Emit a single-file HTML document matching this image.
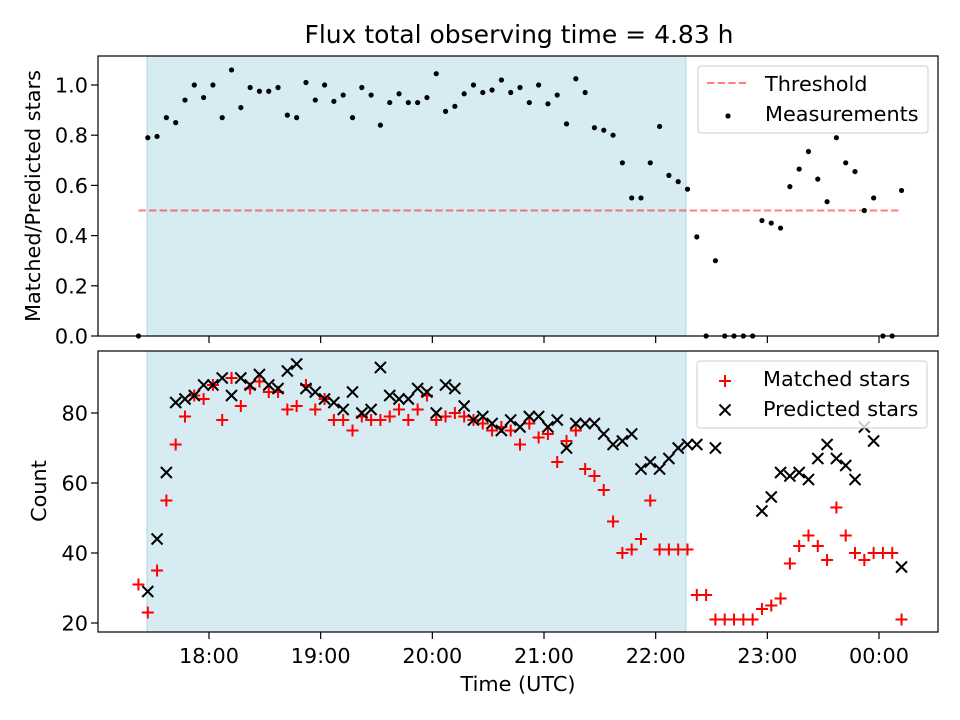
<!DOCTYPE html>
<html><head><meta charset="utf-8"><style>
body{margin:0;background:#fff}
svg{display:block;font-family:"DejaVu Sans","Liberation Sans",sans-serif}
</style></head><body>
<svg id="chart" width="960" height="720" viewBox="0 0 960 720"></svg>
<script>
// Data (minutes after 17:00 = t0 + 5*i)
const t0 = 22.1, step = 5;
const ratio = [0,.79,.795,.87,.85,.94,1.0,.95,1.0,.87,1.06,.91,.99,.975,.975,.99,.88,.87,1.01,.94,1.0,.935,.96,.87,.99,.96,.84,.93,.965,.93,.93,.95,1.045,.895,.915,.965,1.0,.97,.98,1.02,.97,.99,.93,1.0,.925,.96,.845,1.025,.97,.83,.82,.80,.69,.55,.55,.69,.835,.64,.615,.585,.395,0,.30,0,0,0,0,.46,.45,.43,.595,.665,.735,.625,.535,.79,.69,.655,.50,.55,0,0,.58];
const matched = [31,23,35,55,71,79,85,84,88,78,90,82,87,89,86,86,81,82,88,81,84,78,78,75,79,78,78,79,81,78,81,85,78,79,80,79,78,77,75,76,75,71,77,73,74,66,72,75,64,62,58,49,40,41,44,55,41,41,41,41,28,28,21,21,21,21,21,24,25,27,37,42,45,42,38,53,45,40,38,40,40,40,21];
const predicted = [null,29,44,63,83,84,85,88,88,90,85,90,88,91,88,87,92,94,87,86,84,83,81,86,80,81,93,85,84,84,87,86,80,88,87,82,78,79,77,75,78,76,79,79,76,78,70,77,77,77,74,71,72,74,64,66,64,67,70,71,71,null,70,null,null,null,null,52,56,63,62,63,61,67,71,67,65,61,76,72,null,null,36];
const threshold = 0.5;
const shadeStart = 26.7, shadeEnd = 316.3; // minutes after 17:00
const xTickLabels = ["18:00","19:00","20:00","21:00","22:00","23:00","00:00"];
const xTickMins = [60,120,180,240,300,360,420];
const yTopTicks = [0,0.2,0.4,0.6,0.8,1.0];
const yBotTicks = [20,40,60,80];

const NS="http://www.w3.org/2000/svg", svg=document.getElementById('chart');
function mk(tag,attrs,parent){const e=document.createElementNS(NS,tag);for(const k in attrs)e.setAttribute(k,attrs[k]);(parent||svg).appendChild(e);return e;}
const L=98,R=938,FS='20.8';
const X = m => 209 + (m-60)*(111.67/60);
const Yt = v => 336 - v*251;
const Yb = v => 623 - (v-20)*3.5;
const T1=56,B1=336,T2=351,B2=632;
const tm = i => t0 + step*i;

let e=mk('text',{x:519,y:43,'text-anchor':'middle','font-size':'25'});e.textContent='Flux total observing time = 4.83 h';



function panel(top,bot,name){
  const g=mk('g',{});
  
  
  const s=mk('rect',{x:X(shadeStart),y:top,width:X(shadeEnd)-X(shadeStart),height:bot-top,fill:'#add8e6','fill-opacity':0.5,stroke:'#add8e6','stroke-width':1},g);
  
  
  return g;
}
const gt=panel(T1,B1,'top-panel');
const gb=panel(T2,B2,'bottom-panel');

let th=mk('line',{x1:X(tm(0)),x2:X(tm(82)),y1:Yt(threshold),y2:Yt(threshold),stroke:'#ff0000','stroke-opacity':0.5,'stroke-width':2,'stroke-dasharray':'7.4,3.2'},gt);



ratio.forEach((v,i)=>{
  const c=mk('circle',{cx:X(tm(i)),cy:Yt(v),r:2.6,fill:'#000'},gt);
  
  
});
matched.forEach((v,i)=>{
  const x=X(tm(i)),y=Yb(v);
  const p=mk('path',{d:`M${x-6},${y}H${x+6}M${x},${y-6}V${y+6}`,stroke:'#ff0000','stroke-width':2},gb);
  
  
});
predicted.forEach((v,i)=>{
  if(v==null)return;
  const x=X(tm(i)),y=Yb(v);
  const p=mk('path',{d:`M${x-5.5},${y-5.5}L${x+5.5},${y+5.5}M${x-5.5},${y+5.5}L${x+5.5},${y-5.5}`,stroke:'#000','stroke-width':2},gb);
  
  
});

[[T1,B1,'top-axes-frame'],[T2,B2,'bottom-axes-frame']].forEach(([t,b,n])=>{
  const r=mk('rect',{x:L,y:t,width:R-L,height:b-t,fill:'none',stroke:'#000','stroke-width':1.2});
  
  
});

xTickMins.forEach((m,i)=>{
  const x=X(m);
  mk('line',{x1:x,x2:x,y1:B1,y2:B1+7,stroke:'#000','stroke-width':1.2});
  mk('line',{x1:x,x2:x,y1:B2,y2:B2+7,stroke:'#000','stroke-width':1.2});
  const t=mk('text',{x:x,y:663,'text-anchor':'middle','font-size':FS});t.textContent=xTickLabels[i];
  
  
});
yTopTicks.forEach(v=>{
  const y=Yt(v);
  mk('line',{x1:L-7,x2:L,y1:y,y2:y,stroke:'#000','stroke-width':1.2});
  const t=mk('text',{x:L-10,y:y+7.5,'text-anchor':'end','font-size':FS});t.textContent=v.toFixed(1);
  
  
});
yBotTicks.forEach(v=>{
  const y=Yb(v);
  mk('line',{x1:L-7,x2:L,y1:y,y2:y,stroke:'#000','stroke-width':1.2});
  const t=mk('text',{x:L-10,y:y+7.5,'text-anchor':'end','font-size':FS});t.textContent=String(v);
  
  
});
e=mk('text',{x:518,y:691,'text-anchor':'middle','font-size':FS});e.textContent='Time (UTC)';


e=mk('text',{x:0,y:0,'text-anchor':'middle','font-size':FS,transform:`translate(40,196) rotate(-90)`});e.textContent='Matched/Predicted stars';


e=mk('text',{x:0,y:0,'text-anchor':'middle','font-size':FS,transform:`translate(46,491) rotate(-90)`});e.textContent='Count';



function legend(x,y,name){
  const g=mk('g',{});
  
  
  mk('rect',{x:x,y:y,width:230,height:67,rx:3,fill:'#fff','fill-opacity':0.8,stroke:'#ccc'},g);
  return g;
}
let lg=legend(698,66,'top-legend');
mk('line',{x1:707,x2:748,y1:83,y2:83,stroke:'#ff0000','stroke-opacity':0.5,'stroke-width':2,'stroke-dasharray':'7.4,3.2'},lg);
e=mk('text',{x:765,y:91,'font-size':FS},lg);e.textContent='Threshold';


mk('circle',{cx:728,cy:116,r:2.6,fill:'#000'},lg);
e=mk('text',{x:765,y:121,'font-size':FS},lg);e.textContent='Measurements';



lg=legend(697,361,'bottom-legend');
mk('path',{d:'M719,381H731M725,375V387',stroke:'#ff0000','stroke-width':2},lg);
e=mk('text',{x:763,y:386,'font-size':FS},lg);e.textContent='Matched stars';


mk('path',{d:'M719.5,404.5L730.5,415.5M719.5,415.5L730.5,404.5',stroke:'#000','stroke-width':2},lg);
e=mk('text',{x:763,y:416,'font-size':FS},lg);e.textContent='Predicted stars';


</script>
</body></html>
